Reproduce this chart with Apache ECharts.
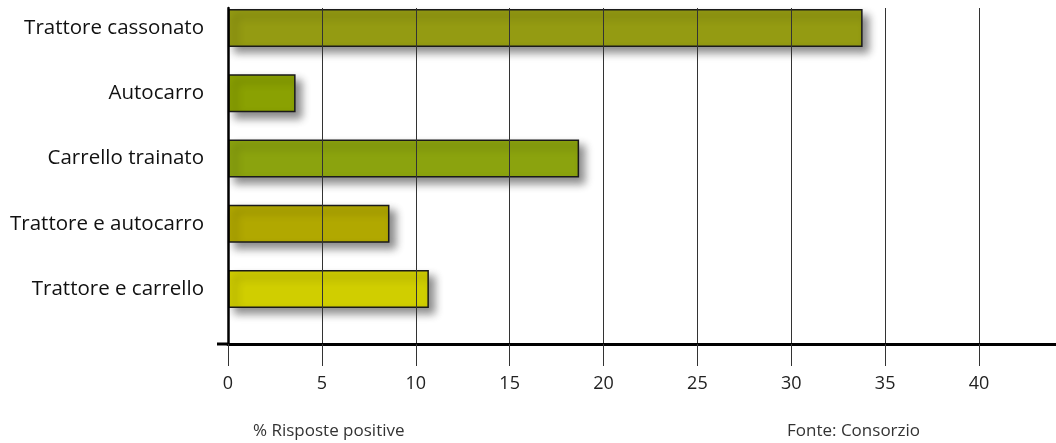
<!DOCTYPE html>
<html>
<head>
<meta charset="utf-8">
<script src="https://cdn.jsdelivr.net/npm/echarts@6/dist/echarts.min.js"></script>
<style>
  html, body { margin: 0; padding: 0; background: #fff; }
  #chart { width: 1056px; height: 443px; }
</style>
</head>
<body>
<div id="chart"></div>
<script>
// Mezzi usati per il trasporto (% risposte positive)
const categories = ['Trattore cassonato', 'Autocarro', 'Carrello trainato', 'Trattore e autocarro', 'Trattore e carrello'];
const values = [33.8, 3.6, 18.7, 8.6, 10.7];
const xTickValues = [0, 5, 10, 15, 20, 25, 30, 35, 40];
const axisTitle = '% Risposte positive';
const sourceNote = 'Fonte: Consorzio';

const barColors = ['#949b12', '#8aa102', '#8ba30e', '#b1a800', '#d0ce00'];
const FONT = '"Open Sans", "DejaVu Sans", sans-serif';
const X_MAX = 44.1;

const chart = echarts.init(document.getElementById('chart'), null, { renderer: 'canvas' });

const footer = [
  {
    type: 'text', left: 253, top: 423,
    style: { text: axisTitle, font: '17px ' + FONT, fill: '#333' }
  },
  {
    type: 'text', left: 787, top: 423,
    style: { text: sourceNote, font: '17px ' + FONT, fill: '#333' }
  }
];

const option = {
  backgroundColor: '#ffffff',
  animation: false,
  grid: [
    // bars and category labels (first band starts slightly above the frame)
    { left: 228, right: 0, top: -4.6, height: 326.2, containLabel: false, outerBoundsMode: 'none' },
    // frame: axes, ticks and vertical gridlines
    { left: 228, right: 0, top: 8, bottom: 99, containLabel: false, outerBoundsMode: 'none' }
  ],
  xAxis: [
    { gridIndex: 0, type: 'value', min: 0, max: X_MAX, show: false },
    {
      gridIndex: 1, type: 'value', min: 0, max: X_MAX, interval: 5, z: 5,
      axisLine: { show: true, onZero: false, lineStyle: { color: '#000', width: 3 } },
      axisTick: { show: true, length: 22, lineStyle: { color: '#333', width: 1 } },
      splitLine: { show: true, showMaxLine: false, lineStyle: { color: '#333', width: 1 } },
      axisLabel: {
        margin: 31, fontSize: 18, color: '#222', fontFamily: FONT,
        formatter: v => xTickValues.includes(v) ? String(v) : ''
      }
    }
  ],
  yAxis: [
    {
      gridIndex: 0, type: 'category', inverse: true, data: categories,
      axisLine: { show: false }, axisTick: { show: false }, splitLine: { show: false },
      axisLabel: { margin: 24, fontSize: 20.5, color: '#111', fontFamily: FONT }
    },
    {
      gridIndex: 1, type: 'value', min: 0, max: 1, z: 5,
      axisLine: { show: true, onZero: false, lineStyle: { color: '#000', width: 2.5 } },
      axisTick: { show: false }, axisLabel: { show: false }, splitLine: { show: false }
    }
  ],
  series: [{
    type: 'bar',
    xAxisIndex: 0, yAxisIndex: 0,
    barWidth: 38,
    z: 2,
    data: values.map((v, i) => ({
      value: v,
      itemStyle: { color: barColors[i] }
    })),
    itemStyle: {
      borderColor: '#1a1a1a',
      borderWidth: 1.5,
      shadowColor: 'rgba(0,0,0,0.45)',
      shadowBlur: 8,
      shadowOffsetX: 6,
      shadowOffsetY: 6
    }
  }],
  graphic: footer
};

chart.setOption(option);

// short stub of the baseline running left past the vertical axis
const origin = chart.convertToPixel({ xAxisIndex: 1, yAxisIndex: 1 }, [0, 0]);
chart.setOption({
  graphic: footer.concat([{
    type: 'line', z: 10,
    shape: { x1: origin[0] - 11, y1: origin[1], x2: origin[0], y2: origin[1] },
    style: { stroke: '#000', lineWidth: 3 }
  }])
}, { replaceMerge: ['graphic'] });
</script>
</body>
</html>
